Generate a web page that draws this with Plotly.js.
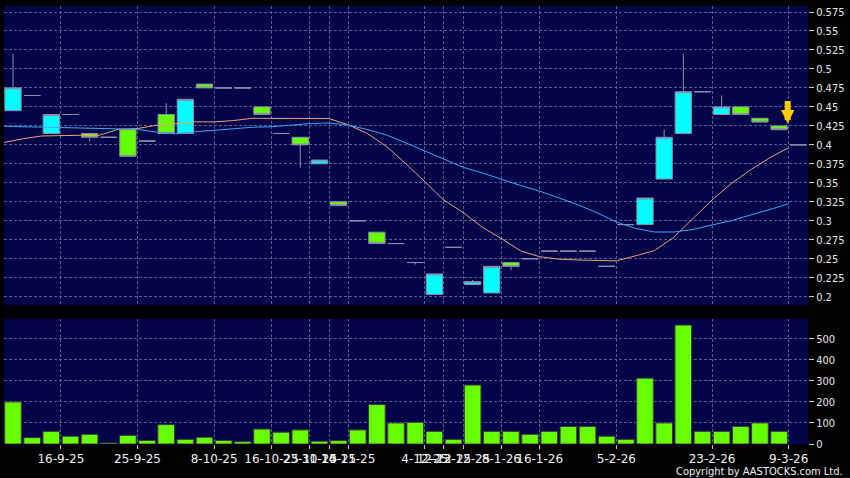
<!DOCTYPE html>
<html>
<head>
<meta charset="utf-8">
<script src="https://cdn.plot.ly/plotly-3.0.1.min.js"></script>
<style>
  html, body { margin: 0; padding: 0; background: #000000; }
  #chart { width: 850px; height: 478px; }
</style>
</head>
<body>
<div id="chart"></div>
<script>
// ---- Data ----
// bar index 0..41 (trading sessions shown, evenly spaced)
const openP  = [0.445,0.465,0.415,0.44,0.415,0.41,0.42,0.405,0.44,0.415,0.48,0.475,0.475,0.45,0.415,0.41,0.375,0.325,0.30,0.285,0.27,0.245,0.203,0.265,0.216,0.205,0.245,0.25,0.26,0.26,0.26,0.24,0.295,0.295,0.355,0.415,0.47,0.44,0.45,0.435,0.425,0.40];
const highP  = [0.52,0.465,0.44,0.44,0.415,0.41,0.42,0.405,0.455,0.46,0.48,0.475,0.475,0.45,0.415,0.41,0.38,0.325,0.30,0.285,0.27,0.245,0.23,0.265,0.222,0.24,0.245,0.25,0.26,0.26,0.26,0.24,0.295,0.33,0.42,0.52,0.47,0.465,0.45,0.435,0.425,0.40];
const lowP   = [0.445,0.465,0.415,0.44,0.405,0.41,0.385,0.405,0.415,0.415,0.475,0.475,0.475,0.44,0.415,0.37,0.375,0.32,0.30,0.27,0.27,0.2425,0.203,0.265,0.216,0.205,0.235,0.25,0.26,0.26,0.26,0.24,0.295,0.295,0.355,0.415,0.47,0.44,0.44,0.43,0.42,0.40];
const closeP = [0.475,0.465,0.44,0.44,0.41,0.41,0.385,0.405,0.415,0.46,0.475,0.475,0.475,0.44,0.415,0.40,0.38,0.32,0.30,0.27,0.27,0.245,0.23,0.265,0.22,0.24,0.24,0.25,0.26,0.26,0.26,0.24,0.295,0.33,0.41,0.47,0.47,0.45,0.44,0.43,0.42,0.40];
const volume = [200,30,60,37,46,5,41,17,92,22,32,17,11,71,56,67,13,16,67,188,100,103,60,22,280,60,60,46,60,83,83,37,22,313,100,565,60,60,83,100,60,null];

// moving averages, one value per slot boundary (before bar 0 ... after bar 40)
const maShort = [0.403,0.408,0.4117,0.4126,0.4126,0.4126,0.4205,0.4215,0.4259,0.428,0.4303,0.4303,0.432,0.435,0.435,0.4347,0.4346,0.4346,0.4265,0.415,0.398,0.3755,0.3515,0.3272,0.311,0.2915,0.2765,0.2605,0.2527,0.2495,0.2484,0.2476,0.2472,0.2538,0.2608,0.2782,0.3033,0.3274,0.349,0.367,0.3827,0.3963];
const maLong  = [0.4245,0.424,0.4235,0.423,0.4222,0.4214,0.421,0.4205,0.4167,0.4145,0.4172,0.4192,0.421,0.4232,0.4239,0.4262,0.428,0.4288,0.4262,0.4202,0.413,0.4027,0.3922,0.381,0.3705,0.363,0.3545,0.3465,0.339,0.3302,0.3212,0.3105,0.2985,0.29,0.2852,0.2852,0.2885,0.2945,0.3001,0.3075,0.3145,0.3222];

// x-axis date labels and the bar at which each label starts
const tickLabels = ['16-9-25','25-9-25','8-10-25','16-10-25','23-10-25','31-10-25','14-11-25','4-12-25','12-12-25','23-12-25','8-1-26','16-1-26','5-2-26','23-2-26','9-3-26'];
const tickBars   = [3,7,11,14,16,17,18,22,23,24,26,28,32,37,41];

const priceTicks = [0.2,0.225,0.25,0.275,0.3,0.325,0.35,0.375,0.4,0.425,0.45,0.475,0.5,0.525,0.55,0.575];
const volTicks   = [0,100,200,300,400,500];

const markerBar = 40; // arrow marker near last bar
const markerPrice = 0.428;

// ---- Build ----
const idx = openP.map((_, i) => i);
const maX = maShort.map((_, i) => i - 0.5);

const gridCol = '#5a5a94';
const gridDash = '3px,2px';
const lineCol = '#8c8cac';

const traces = [
  {
    type: 'candlestick', x: idx, open: openP, high: highP, low: lowP, close: closeP,
    xaxis: 'x', yaxis: 'y', whiskerwidth: 0,
    increasing: { fillcolor: '#00ffff', line: { color: lineCol, width: 1 } },
    decreasing: { fillcolor: '#66ff00', line: { color: lineCol, width: 1 } },
    hoverinfo: 'skip', showlegend: false
  },
  {
    type: 'scatter', mode: 'lines', x: maX, y: maShort, xaxis: 'x', yaxis: 'y',
    line: { color: '#f0a078', width: 1 }, hoverinfo: 'skip', showlegend: false
  },
  {
    type: 'scatter', mode: 'lines', x: maX, y: maLong, xaxis: 'x', yaxis: 'y',
    line: { color: '#3aa8ee', width: 1 }, hoverinfo: 'skip', showlegend: false
  },
  {
    type: 'bar', x: idx, y: volume, xaxis: 'x', yaxis: 'y2',
    marker: { color: '#66ff00', line: { color: '#3a3a3a', width: 1 } },
    hoverinfo: 'skip', showlegend: false
  }
];

const tickFontY = { family: '"DejaVu Sans Condensed", "DejaVu Sans", sans-serif', size: 11, color: '#e8e8e8' };

const layout = {
  width: 850, height: 478,
  paper_bgcolor: '#000000', plot_bgcolor: '#03034a',
  margin: { l: 4, r: 42, t: 6, b: 34, pad: 0 },
  showlegend: false,
  boxgap: 0.15, boxgroupgap: 0,
  bargap: 0.13,
  xaxis: {
    anchor: 'y2', range: [-0.47, 41.51],
    tickmode: 'array', tickvals: tickBars.map(b => b - 0.5), ticktext: tickLabels,
    showgrid: true, gridcolor: gridCol, griddash: gridDash, gridwidth: 1,
    ticks: 'outside', ticklen: 4, tickcolor: '#bbbbbb', tickangle: 0,
    tickfont: { family: '"DejaVu Sans", sans-serif', size: 12, color: '#f0f0f0' },
    zeroline: false, showline: false,
    rangeslider: { visible: false }, fixedrange: true
  },
  yaxis: {
    domain: [0.3174, 1], range: [0.1891, 0.5829], side: 'right',
    tickmode: 'array', tickvals: priceTicks, ticktext: priceTicks.map(v => String(v)),
    showgrid: true, gridcolor: gridCol, griddash: gridDash, gridwidth: 1,
    ticks: 'outside', ticklen: 5, tickcolor: '#cccccc',
    tickfont: tickFontY, zeroline: false, showline: false, fixedrange: true
  },
  yaxis2: {
    domain: [0, 0.2854], range: [0, 594], side: 'right', anchor: 'x',
    tickmode: 'array', tickvals: volTicks, ticktext: volTicks.map(v => String(v)),
    showgrid: true, gridcolor: gridCol, griddash: gridDash, gridwidth: 1,
    ticks: 'outside', ticklen: 5, tickcolor: '#cccccc',
    tickfont: tickFontY, zeroline: false, showline: false, fixedrange: true
  },
  annotations: [
    {
      xref: 'x', yref: 'y', x: markerBar + 0.45, y: markerPrice,
      text: '', showarrow: true, ax: 0, ay: -24,
      arrowhead: 2, arrowwidth: 6, arrowsize: 0.45, arrowcolor: '#ffcc00'
    },
    {
      xref: 'paper', yref: 'paper', x: 1.046, y: -0.062, xanchor: 'right', yanchor: 'middle',
      text: 'Copyright by AASTOCKS.com Ltd.', showarrow: false,
      font: { family: '"DejaVu Sans Condensed", "DejaVu Sans", sans-serif', size: 11, color: '#f0f0f0' }
    }
  ]
};

Plotly.newPlot('chart', traces, layout, { staticPlot: true, displayModeBar: false });
</script>
</body>
</html>
